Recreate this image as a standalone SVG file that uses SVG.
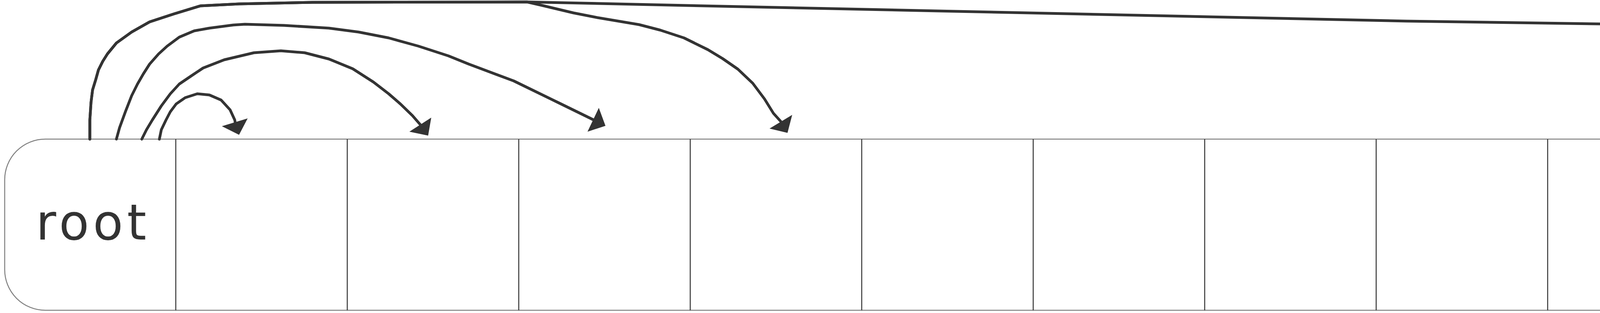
<svg xmlns="http://www.w3.org/2000/svg" width="5736" height="801" viewBox="0 0 5736 801">
<style>
.outline{fill:#ffffff;stroke:#808080;stroke-width:2.5}
.div{stroke:#333333;stroke-width:2.5}
.lbl{font-family:"DejaVu Sans","Liberation Sans",sans-serif;font-size:126px;letter-spacing:10px;fill:#333333}
.edge{fill:none;stroke:#333333;stroke-width:7;stroke-linejoin:round;stroke-linecap:round}
.head{fill:#333333;stroke:none}
</style>
<rect width="5736" height="801" fill="#ffffff"/>
<g id="array">
<rect class="outline" x="12" y="356" width="5704" height="438" rx="104" ry="104"/>
<g id="cell0"><text class="lbl" x="92" y="613">root</text></g>
<g id="cell1"><line class="div" x1="450" y1="356" x2="450" y2="794"/></g>
<g id="cell2"><line class="div" x1="889" y1="356" x2="889" y2="794"/></g>
<g id="cell3"><line class="div" x1="1328" y1="356" x2="1328" y2="794"/></g>
<g id="cell4"><line class="div" x1="1767" y1="356" x2="1767" y2="794"/></g>
<g id="cell5"><line class="div" x1="2206" y1="356" x2="2206" y2="794"/></g>
<g id="cell6"><line class="div" x1="2645" y1="356" x2="2645" y2="794"/></g>
<g id="cell7"><line class="div" x1="3084" y1="356" x2="3084" y2="794"/></g>
<g id="cell8"><line class="div" x1="3523" y1="356" x2="3523" y2="794"/></g>
<g id="cell9"><line class="div" x1="3962" y1="356" x2="3962" y2="794"/></g>
<g id="cell10"><line class="div" x1="4401" y1="356" x2="4401" y2="794"/></g>
<g id="cell11"><line class="div" x1="4840" y1="356" x2="4840" y2="794"/></g>
<g id="cell12"><line class="div" x1="5279" y1="356" x2="5279" y2="794"/></g>
</g>
<g id="connectors">
<g id="e1">
<path class="edge" d="M230,356 L230,307 L233,262 L237,230 L245,204 L252,179 L263,157 L275,138 L298,110 L337,82 L383,56 L444,36 L513,15 L612,10 L800,6 L1349,5 L2400,28 L3600,54 L4295,64"/>
<polygon class="head" points="4324,64 4291,30 4291,98"/>
</g>
<g id="e2">
<path class="edge" d="M230,356 L230,307 L233,262 L237,230 L245,204 L252,179 L263,157 L275,138 L298,110 L337,82 L383,56 L444,36 L513,15 L612,10 L800,6 L1349,5 L1384,13 L1468,33 L1529,45 L1636,63 L1690,77 L1751,97 L1812,127 L1850,150 L1889,177 L1927,213 L1957,253 L1980,290 L1999,311"/>
<polygon class="head" points="2016,340 2028,294 1970,329"/>
</g>
<g id="e3">
<path class="edge" d="M298,356 L306,327 L321,286 L337,245 L352,215 L367,189 L383,164 L406,138 L428,118 L459,95 L497,79 L536,72 L597,64 L627,62 L727,65 L842,72 L918,82 L995,97 L1071,118 L1148,143 L1200,164 L1315,207 L1430,263 L1518,306"/>
<polygon class="head" points="1550,322 1533,276 1504,337"/>
</g>
<g id="e4">
<path class="edge" d="M363,356 L375,332 L390,307 L413,271 L436,240 L459,215 L490,194 L520,174 L574,153 L650,135 L719,130 L780,135 L842,151 L903,176 L956,210 L995,240 L1025,266 L1056,296 L1076,319"/>
<polygon class="head" points="1096,347 1104,301 1048,337"/>
</g>
<g id="e5">
<path class="edge" d="M408,356 L413,332 L425,307 L436,286 L451,266 L474,250 L505,240 L536,243 L566,256 L589,281 L601,307 L602,313"/>
<polygon class="head" points="612,345 634,303 568,323"/>
</g>
</g>
</svg>
